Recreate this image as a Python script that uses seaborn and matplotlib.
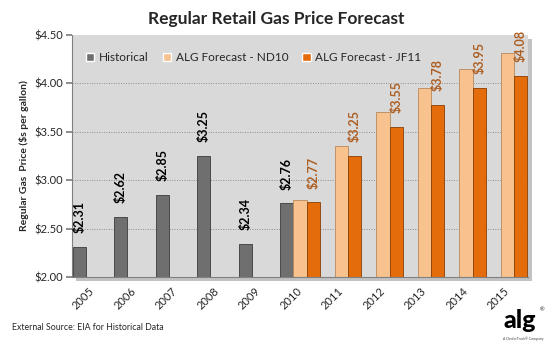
import numpy as np
import pandas as pd
import matplotlib
matplotlib.use("Agg")
import matplotlib.pyplot as plt
from matplotlib.patches import Rectangle
import seaborn as sns

years = ["2005", "2006", "2007", "2008", "2009", "2010",
         "2011", "2012", "2013", "2014", "2015"]
historical = [2.31, 2.62, 2.85, 3.25, 2.34, 2.76,
              np.nan, np.nan, np.nan, np.nan, np.nan]
forecast_nd10 = [np.nan, np.nan, np.nan, np.nan, np.nan, 2.80,
                 3.35, 3.70, 3.95, 4.15, 4.31]
forecast_jf11 = [np.nan, np.nan, np.nan, np.nan, np.nan, 2.77,
                 3.25, 3.55, 3.78, 3.95, 4.08]
series_names = ["Historical", "ALG Forecast - ND10", "ALG Forecast - JF11"]
yticks = [2.00, 2.50, 3.00, 3.50, 4.00, 4.50]

df = pd.DataFrame({
    "year": years * 3,
    "series": [series_names[0]] * 11 + [series_names[1]] * 11 + [series_names[2]] * 11,
    "price": historical + forecast_nd10 + forecast_jf11,
})

sns.set_theme(style="white")
plt.rcParams["font.family"] = ["Lato", "DejaVu Sans"]

colors = {"Historical": "#6f6f6f",
          "ALG Forecast - ND10": "#f7c28e",
          "ALG Forecast - JF11": "#e46c0a"}
edges = {"Historical": "#3c3c3c",
         "ALG Forecast - ND10": "#b98a5e",
         "ALG Forecast - JF11": "#8a3e05"}

fig = plt.figure(figsize=(5.52, 3.5), dpi=100)
fig.patch.set_facecolor("white")
ax = fig.add_axes([0.130, 0.2086, 0.827, 0.6914])

# drop shadow behind plot area
shadow = Rectangle((0.130 + 4 / 552, 0.2086 - 4 / 350), 0.827, 0.6914,
                   transform=fig.transFigure, facecolor="#9a9a9a",
                   edgecolor="none", alpha=0.6, zorder=-10)
fig.patches.append(shadow)

ax.set_facecolor("#d9d9d9")
sns.barplot(data=df, x="year", y="price", hue="series", order=years,
            hue_order=series_names, palette=colors, width=0.96,
            ax=ax, saturation=1, legend=True, errorbar=None)

for cont, name in zip(ax.containers, series_names):
    for p in cont:
        p.set_edgecolor(edges[name])
        p.set_linewidth(0.6)

ax.set_ylim(2.0, 4.5)
ax.set_xlim(-0.5, 10.5)
ax.set_yticks(yticks)
ax.set_yticklabels([f"${v:.2f}" for v in yticks], fontsize=8)
for v in yticks[1:-1]:
    ax.axhline(v, color="#8c8c8c", linestyle=(0, (1, 1.5)), linewidth=0.7, zorder=0)
ax.set_axisbelow(True)

ax.set_xticks(range(len(years)))
ax.set_xticklabels(years, rotation=45, fontsize=8, ha="right", va="center",
                   rotation_mode="anchor")
ax.tick_params(axis="x", length=0, pad=9)
ax.set_xticks(np.arange(-0.5, 11, 1), minor=True)
ax.tick_params(axis="x", which="minor", length=4, color="#808080", direction="out")
ax.tick_params(axis="y", length=4, color="#808080", direction="out", left=True, pad=2)
ax.set_xlabel("")
ax.set_ylabel("Regular Gas  Price ($s per gallon)", fontsize=7.5, fontweight="bold",
              labelpad=4)

for s in ["top", "right"]:
    ax.spines[s].set_visible(False)
for s in ["left", "bottom"]:
    ax.spines[s].set_color("#808080")
    ax.spines[s].set_linewidth(0.8)

# value labels
label_colors = {0: "black", 2: "#ad5e22"}
for idx, col in label_colors.items():
    for p in ax.containers[idx]:
        h = p.get_height()
        cx = p.get_x() + p.get_width() / 2
        ax.annotate(f"${h:.2f}", (cx, h), xytext=(0, 10), textcoords="offset points",
                    rotation=90, ha="center", va="bottom", fontsize=9,
                    fontweight="bold", color=col, annotation_clip=False)

leg = ax.legend(loc="center left", bbox_to_anchor=(0.02, 0.905), ncol=3,
                frameon=False, fontsize=8.5, handlelength=0.7, handleheight=0.7,
                columnspacing=1.2, handletextpad=0.4, borderaxespad=0)

fig.text(0.5, 0.945, "Regular Retail Gas Price Forecast", ha="center", va="center",
         fontsize=12.5, fontweight="bold")
fig.text(0.022, 0.063, "External Source: EIA for Historical Data", ha="left",
         va="center", fontsize=6.3)
fig.text(0.912, 0.085, "alg", ha="left", va="center", fontsize=18,
         fontweight="black", color="black")
fig.text(0.978, 0.115, "®", ha="left", va="center", fontsize=4)
fig.text(0.912, 0.033, "A DealerTrack\u00ae Company", ha="left", va="center",
         fontsize=2.5, color="#444444")

fig.savefig("out.png", dpi=100, facecolor="white")
